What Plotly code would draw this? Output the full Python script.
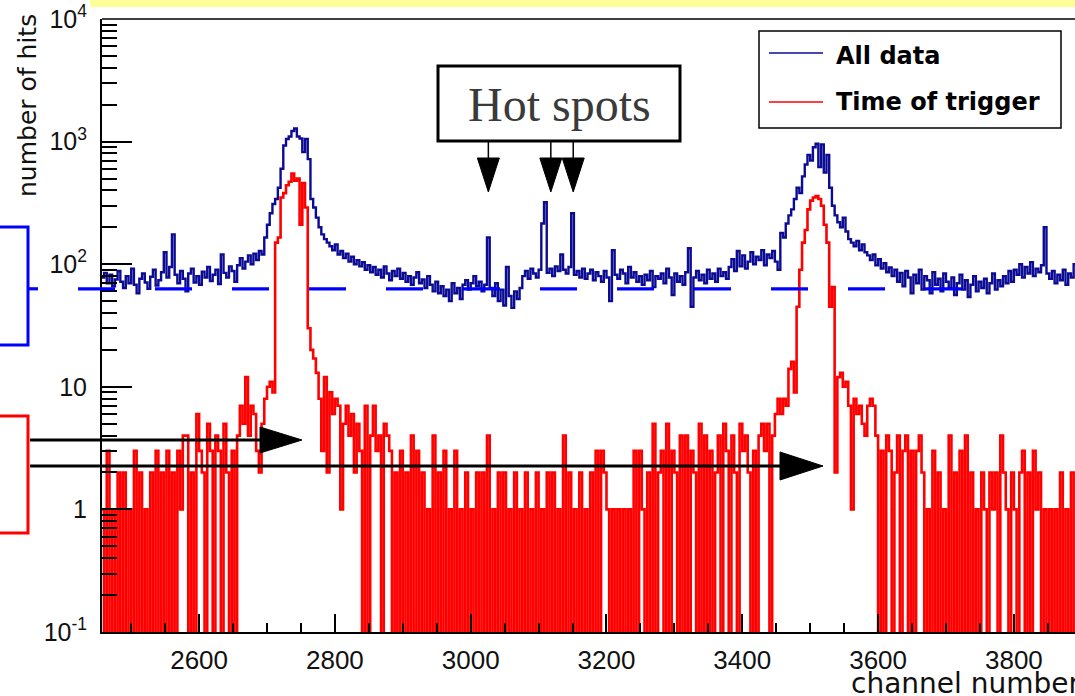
import math
import plotly.graph_objects as go

# ---------------- data (histograms, 4-channel bins starting at channel 2456) ----------------
bin_start = 2456
bin_width = 4

all_data = [
    78, 85, 70, 82, 66, 75, 88, 72, 64, 80, 70, 92, 68, 58, 76, 84, 71, 63, 79, 90, 67, 74, 86, 125, 78,
    95, 175, 82, 70, 88, 76, 60, 84, 92, 71, 80, 68, 87, 78, 95, 73, 82, 90, 69, 120, 85, 78, 96, 88, 72,
    98, 112, 92, 105, 118, 100, 122, 108, 128, 120, 165, 210, 260, 310, 340, 420, 600, 930, 1050, 1100, 1220, 1280, 1100, 1060, 820,
    1050, 720, 340, 290, 240, 200, 175, 160, 150, 140, 130, 145, 120, 128, 112, 122, 105, 115, 100, 108, 96, 104, 90, 98, 86,
    95, 82, 90, 78, 96, 84, 74, 88, 80, 92, 76, 85, 72, 80, 68, 78, 86, 70, 75, 64, 80, 68, 60, 72, 58,
    66, 55, 62, 50, 70, 58, 64, 52, 68, 74, 62, 70, 80, 66, 72, 60, 68, 165, 64, 55, 70, 50, 62, 46, 95,
    55, 44, 60, 52, 64, 80, 88, 76, 92, 84, 78, 90, 215, 320, 85, 92, 80, 96, 88, 120, 90, 84, 95, 260, 82,
    88, 78, 92, 76, 84, 90, 74, 86, 80, 72, 88, 78, 50, 130, 82, 76, 90, 84, 70, 95, 78, 86, 72, 80, 68,
    82, 74, 88, 65, 80, 76, 84, 70, 92, 78, 56, 84, 72, 80, 68, 86, 135, 45, 78, 88, 74, 82, 70, 90, 76,
    84, 72, 92, 80, 86, 76, 95, 110, 88, 128, 96, 118, 92, 105, 125, 100, 115, 108, 130, 98, 120, 112, 128, 105, 90,
    180, 165, 215, 250, 280, 340, 420, 380, 520, 650, 780, 700, 900, 960, 620, 950, 560, 780, 420, 300, 250, 220, 200, 240, 185,
    160, 150, 140, 155, 130, 145, 125, 118, 108, 120, 98, 110, 92, 102, 86, 94, 80, 90, 72, 85, 66, 88, 78, 58, 82,
    70, 90, 62, 80, 74, 58, 86, 68, 76, 60, 84, 72, 64, 78, 56, 70, 82, 62, 74, 54, 68, 80, 60, 72, 64,
    76, 58, 70, 84, 62, 74, 66, 80, 70, 88, 72, 90, 82, 100, 78, 95, 84, 104, 80, 92, 86, 98, 200, 84, 76,
    88, 70, 82, 74, 90, 68, 84, 78, 100, 86, 80,
]

time_of_trigger = [
    1, 0, 3, 0, 1, 0, 2, 0, 2, 0, 1, 0, 3, 0, 2, 0, 1, 0, 2, 0, 3, 0, 2, 0, 3,
    0, 2, 0, 3, 1, 4, 4, 0, 2, 0, 6, 3, 2, 0, 5, 3, 0, 4, 3, 0, 5, 2, 0, 3, 0,
    4, 7, 5, 12, 4, 7, 6, 3, 2, 5, 8, 10, 11, 9, 150, 165, 350, 380, 440, 470, 550, 480, 500, 210, 460,
    290, 30, 20, 17, 13, 8, 3, 12, 2, 9, 6, 8, 7, 1, 5, 7, 4, 6, 2, 5, 3, 0, 7, 0, 4,
    7, 3, 4, 0, 5, 4, 3, 0, 2, 0, 3, 0, 2, 0, 4, 0, 3, 0, 2, 0, 1, 0, 4, 0, 2,
    0, 3, 0, 1, 0, 3, 0, 1, 0, 2, 0, 1, 0, 2, 0, 2, 0, 4, 0, 1, 0, 2, 0, 2, 0,
    1, 0, 2, 0, 1, 0, 2, 0, 1, 0, 2, 0, 1, 0, 2, 0, 2, 0, 1, 0, 4, 0, 2, 0, 1,
    0, 2, 0, 1, 0, 2, 0, 3, 0, 3, 2, 1, 0, 1, 0, 1, 0, 1, 0, 1, 0, 3, 0, 3, 1,
    0, 2, 0, 5, 0, 2, 3, 0, 5, 0, 3, 2, 0, 4, 0, 4, 0, 3, 2, 0, 5, 0, 4, 0, 3,
    0, 2, 4, 0, 5, 3, 0, 4, 2, 0, 5, 3, 4, 2, 0, 3, 0, 4, 5, 3, 5, 0, 4, 6, 8,
    6, 8, 7, 14, 16, 9, 45, 90, 150, 190, 280, 330, 350, 360, 340, 300, 210, 150, 45, 65, 2, 12, 13, 10, 11,
    7, 1, 8, 6, 7, 5, 4, 7, 8, 7, 4, 0, 3, 0, 4, 3, 0, 2, 4, 0, 3, 4, 0, 3, 0,
    3, 4, 2, 0, 1, 0, 3, 0, 2, 0, 1, 0, 4, 0, 2, 0, 3, 0, 4, 0, 2, 0, 1, 0, 2,
    1, 0, 2, 1, 2, 0, 4, 2, 1, 0, 2, 1, 0, 2, 3, 0, 2, 0, 3, 1, 2, 0, 1, 0, 1,
    0, 1, 0, 2, 0, 1, 0, 2, 0, 1, 0,
]

series_names = ["All data", "Time of trigger"]
x_range = [2457, 3890]
y_tick_vals = [0.1, 1, 10, 100, 1000, 10000]
y_tick_text = ["10<sup>-1</sup>", "1", "10", "10<sup>2</sup>", "10<sup>3</sup>", "10<sup>4</sup>"]
guide_level = 63                    # blue dashed reference level
hot_spot_channels = [3026, 3118, 3151]
annotation_text = "Hot spots"
x_title = "channel number"
y_title = "number of hits"

# ---------------- layout geometry (pixels) ----------------
FIG_W, FIG_H = 1075, 696
L, T, B = 102, 19, 64
PW = FIG_W - L
PH = FIG_H - T - B


def px(xp):
    return (xp - L) / PW


def py(yp):
    return (FIG_H - B - yp) / PH


def ylog_paper(v):
    return (math.log10(v) + 1.0) / 5.0


def step_xy(values):
    xs = [bin_start + i * bin_width for i in range(len(values) + 1)]
    ys = [v if v > 0 else 0.01 for v in values]
    ys = ys + [ys[-1]]
    return xs, ys


fig = go.Figure()
bx, by = step_xy(all_data)
fig.add_trace(go.Scatter(x=bx, y=by, mode="lines", name=series_names[0],
                         line=dict(color="#0b0b94", width=2.4, shape="hv"),
                         showlegend=False))
rx, ry = step_xy(time_of_trigger)
fig.add_trace(go.Scatter(x=rx, y=ry, mode="lines", name=series_names[1],
                         line=dict(color="#ff0000", width=2.6, shape="hv"),
                         showlegend=False))

shapes = []
annotations = []

# yellow band at top
shapes.append(dict(type="rect", xref="paper", yref="paper", x0=px(90), x1=px(1080),
                   y0=py(0), y1=py(7), fillcolor="#ffff99", line=dict(width=0), layer="below"))
# top frame line
shapes.append(dict(type="line", xref="paper", yref="paper", x0=0, x1=1.01, y0=1, y1=1,
                   line=dict(color="black", width=1.5)))

# blue dashed guide level
gy = ylog_paper(guide_level)
shapes.append(dict(type="line", xref="paper", yref="paper", x0=px(28), x1=px(38), y0=gy, y1=gy,
                   line=dict(color="#0000ff", width=3.2)))
shapes.append(dict(type="line", xref="paper", yref="paper", x0=px(78), x1=px(962), y0=gy, y1=gy,
                   line=dict(color="#0000ff", width=3.2, dash="37px,40px")))

# left boxes (cut by the image edge)
shapes.append(dict(type="rect", xref="paper", yref="paper", x0=px(-10), x1=px(28), y0=py(345), y1=py(227),
                   line=dict(color="#0000ff", width=3)))
shapes.append(dict(type="rect", xref="paper", yref="paper", x0=px(-10), x1=px(28), y0=py(533), y1=py(416),
                   line=dict(color="#ff0000", width=3)))


def arrow_right(x_start, x_head, x_tip, y, half):
    shapes.append(dict(type="line", xref="paper", yref="paper", x0=px(x_start), x1=px(x_head + 2),
                       y0=py(y), y1=py(y), line=dict(color="black", width=3)))
    path = "M {a},{b} L {c},{d} L {e},{f} Z".format(
        a=px(x_head), b=py(y - half), c=px(x_tip), d=py(y), e=px(x_head), f=py(y + half))
    shapes.append(dict(type="path", xref="paper", yref="paper", path=path,
                       fillcolor="black", line=dict(color="black", width=1)))


arrow_right(30, 260, 302, 440, 13)
arrow_right(30, 780, 823, 466, 14)

# hot spots box
shapes.append(dict(type="rect", xref="paper", yref="paper", x0=px(438), x1=px(680), y0=py(141), y1=py(66),
                   fillcolor="white", line=dict(color="black", width=3)))
annotations.append(dict(xref="paper", yref="paper", x=px(559), y=py(104), text=annotation_text,
                        showarrow=False, xanchor="center", yanchor="middle",
                        font=dict(family="Liberation Serif, Times New Roman, serif", size=48, color="#3a3a3a")))
half_w = 11 / (PW / (x_range[1] - x_range[0]))
for ch in hot_spot_channels:
    shapes.append(dict(type="line", xref="x", yref="paper", x0=ch, x1=ch, y0=py(141), y1=py(160),
                       line=dict(color="black", width=1.5)))
    path = "M {a},{b} L {c},{b} L {d},{e} Z".format(a=ch - half_w, b=py(158), c=ch + half_w, d=ch, e=py(192))
    shapes.append(dict(type="path", xref="x", yref="paper", path=path,
                       fillcolor="black", line=dict(color="black", width=1)))

# legend box
shapes.append(dict(type="rect", xref="paper", yref="paper", x0=px(759), x1=px(1061), y0=py(128), y1=py(31),
                   fillcolor="white", line=dict(color="black", width=1.5)))
shapes.append(dict(type="line", xref="paper", yref="paper", x0=px(769), x1=px(823), y0=py(53), y1=py(53),
                   line=dict(color="#0b0b94", width=1.5)))
shapes.append(dict(type="line", xref="paper", yref="paper", x0=px(769), x1=px(823), y0=py(102), y1=py(102),
                   line=dict(color="#ff0000", width=1.5)))
for name, yc in zip(series_names, [56, 102]):
    annotations.append(dict(xref="paper", yref="paper", x=px(834), y=py(yc), text="<b>" + name + "</b>",
                            showarrow=False, xanchor="left", yanchor="middle",
                            font=dict(family="DejaVu Sans", size=24, color="black")))

# axis titles
annotations.append(dict(xref="paper", yref="paper", x=px(849), y=py(683), text=x_title, showarrow=False,
                        xanchor="left", yanchor="middle",
                        font=dict(family="DejaVu Sans", size=28, color="#111111")))
annotations.append(dict(xref="paper", yref="paper", x=px(27), y=py(106), text=y_title, showarrow=False,
                        textangle=-90, xanchor="center", yanchor="middle",
                        font=dict(family="DejaVu Sans", size=25, color="#111111")))

minor_y = [k * 10 ** e for e in range(-1, 4) for k in range(2, 10)]

fig.update_layout(
    width=FIG_W, height=FIG_H,
    margin=dict(l=L, r=0, t=T, b=B, autoexpand=False),
    paper_bgcolor="white", plot_bgcolor="white",
    shapes=shapes, annotations=annotations,
    showlegend=False,
    xaxis=dict(range=x_range, showgrid=False, zeroline=False, showline=True, linecolor="black", linewidth=2,
               ticks="inside", ticklen=18, tickwidth=1.5, tickcolor="black", dtick=200, tick0=2600,
               minor=dict(dtick=50, tick0=2600, ticks="inside", ticklen=9, tickwidth=1.5, tickcolor="black"),
               tickfont=dict(family="Liberation Sans, Arial", size=26, color="#111111"),
               ticklabelstandoff=4, automargin=False),
    yaxis=dict(type="log", range=[-1, 4], showgrid=False, zeroline=False, showline=True, linecolor="black",
               linewidth=2, ticks="inside", ticklen=30, tickwidth=1.5, tickcolor="black",
               tickmode="array", tickvals=y_tick_vals, ticktext=y_tick_text,
               minor=dict(tickmode="array", tickvals=minor_y, ticks="inside", ticklen=15, tickwidth=1.5,
                          tickcolor="black"),
               tickfont=dict(family="Liberation Sans, Arial", size=25, color="#111111"),
               ticklabelstandoff=8, automargin=False),
)

fig.write_html("out.html", config=dict(displayModeBar=False),
               post_script="document.body.style.margin='0';document.body.style.overflow='hidden';")
